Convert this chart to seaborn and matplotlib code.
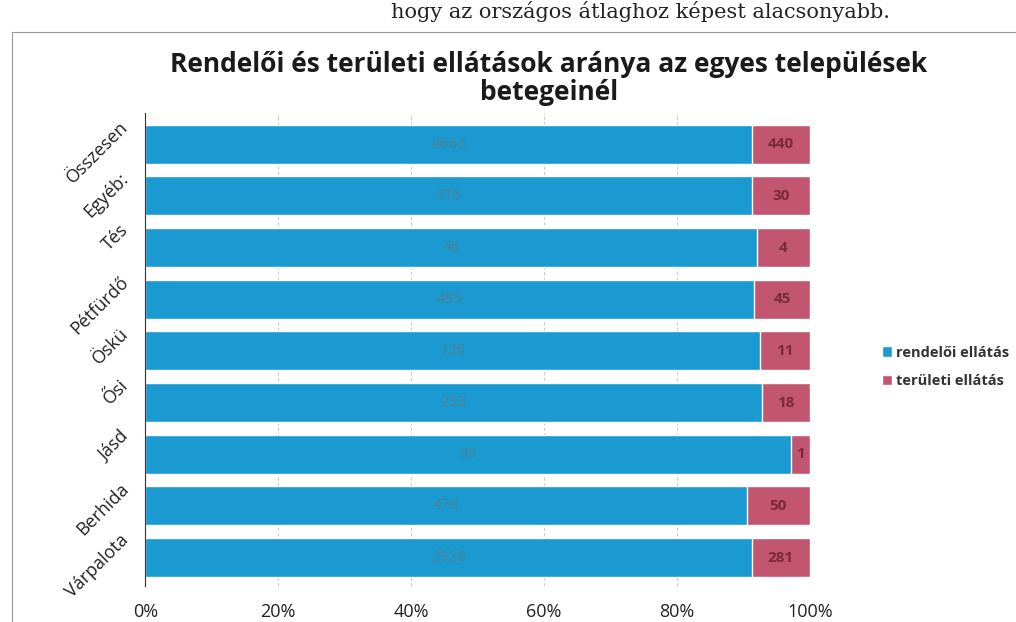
import numpy as np
import pandas as pd
import seaborn as sns
import matplotlib.pyplot as plt
import matplotlib.transforms as mtrans
from matplotlib.patches import Rectangle

# settlements, top to bottom as in the chart
telepulesek = ["Összesen", "Egyéb:", "Tés", "Pétfürdő", "Öskü", "Ősi", "Jásd", "Berhida", "Várpalota"]
rendeloi = [4663, 316, 46, 495, 136, 233, 35, 476, 2926]
teruleti = [440, 30, 4, 45, 11, 18, 1, 50, 281]

df = pd.DataFrame({"telepules": telepulesek, "rendeloi": rendeloi, "teruleti": teruleti})
df["osszes"] = df["rendeloi"] + df["teruleti"]
df["rend_pct"] = df["rendeloi"] / df["osszes"] * 100
df["ossz_pct"] = 100.0

blue = "#1b9ad2"
red = "#c25670"

sns.set_theme(style="white")
plt.rcParams["font.family"] = ["Open Sans", "DejaVu Sans"]

fig = plt.figure(figsize=(10.16, 6.22), dpi=100)
ax = fig.add_axes([0.143, 0.058, 0.654, 0.76])

sns.barplot(data=df, y="telepules", x="ossz_pct", color=red, orient="h",
            width=0.75, ax=ax, saturation=1, label="területi ellátás")
sns.barplot(data=df, y="telepules", x="rend_pct", color=blue, orient="h",
            width=0.75, ax=ax, saturation=1, label="rendelői ellátás")
handles, labels = ax.get_legend_handles_labels()
if ax.get_legend() is not None:
    ax.get_legend().remove()

for i, row in df.iterrows():
    ax.text(row["rend_pct"] / 2, i, str(row["rendeloi"]), ha="center", va="center",
            fontsize=11, color="#4f8090")
    ax.text((row["rend_pct"] + 100) / 2, i, str(row["teruleti"]), ha="center", va="center",
            fontsize=11, fontweight="bold", color="#7a2a3c")

ax.set_xlim(0, 100)
ax.set_ylim(8.55, -0.6)
ax.set_xticks(np.arange(0, 101, 20))
ax.set_xticklabels([f"{t}%" for t in range(0, 101, 20)], fontsize=13, color="#222222")
ax.tick_params(axis="x", pad=6)
ax.set_yticks(range(len(telepulesek)))
ax.set_yticklabels(telepulesek, rotation=45, ha="right", va="center", fontsize=13, color="#222222",
                   rotation_mode="anchor")
ax.tick_params(axis="y", pad=8)
shift = mtrans.ScaledTranslation(0, 20 / 100, fig.dpi_scale_trans)
for lab in ax.get_yticklabels():
    lab.set_transform(lab.get_transform() + shift)
ax.set_xlabel("")
ax.set_ylabel("")
ax.xaxis.grid(True, color="#cccccc", linestyle=(0, (3, 2)), linewidth=0.8)
ax.set_axisbelow(True)
for s in ["top", "right", "bottom"]:
    ax.spines[s].set_visible(False)
ax.spines["left"].set_color("#333333")
ax.spines["left"].set_linewidth(0.8)

fig.suptitle("Rendelői és területi ellátások aránya az egyes települések\nbetegeinél",
             x=0.54, y=0.918, fontsize=19, fontweight="bold", color="#1a1a1a", linespacing=1.05)

leg = fig.legend(handles[::-1], labels[::-1], loc="center left", bbox_to_anchor=(0.855, 0.41),
                 frameon=False, fontsize=10.5, handlelength=0.7, handleheight=0.7,
                 handletextpad=0.3, labelspacing=1.0)
for t in leg.get_texts():
    t.set_fontweight("bold")
    t.set_color("#333333")

# scanned page details: text line at top and chart frame
fig.text(0.876, 0.999, "hogy az országos átlaghoz képest alacsonyabb.", ha="right", va="top",
         fontsize=15, family="DejaVu Serif", color="#222222")
fig.patches.append(Rectangle((0.012, -0.01), 0.99, 0.958, transform=fig.transFigure,
                             fill=False, edgecolor="#999999", linewidth=0.8))

plt.savefig("out.png", dpi=100)
